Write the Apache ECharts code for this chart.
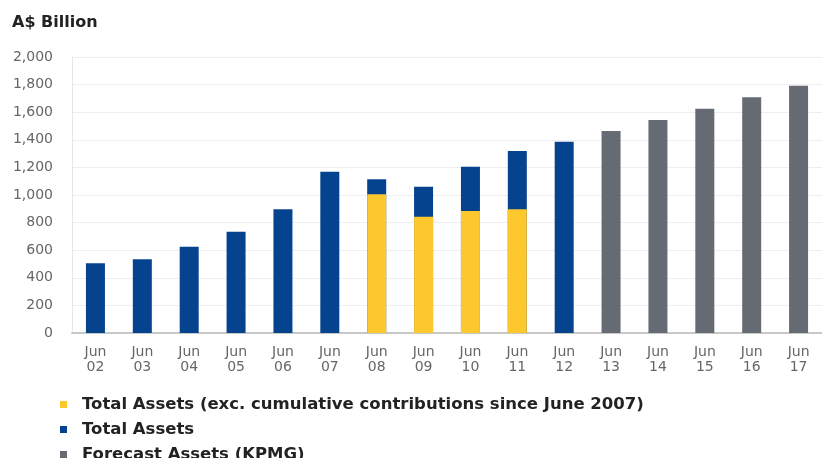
<!DOCTYPE html>
<html>
<head>
<meta charset="utf-8">
<script src="https://cdn.jsdelivr.net/npm/echarts@6/dist/echarts.min.js"></script>
<style>html,body{margin:0;padding:0;background:#fff;}#c{width:822px;height:458px;}</style>
</head>
<body>
<div id="c"></div>
<script>
const categories = ['Jun\n02','Jun\n03','Jun\n04','Jun\n05','Jun\n06','Jun\n07','Jun\n08','Jun\n09','Jun\n10','Jun\n11','Jun\n12','Jun\n13','Jun\n14','Jun\n15','Jun\n16','Jun\n17'];
const totalAssets = [505, 534, 625, 734, 896, 1169, 1114, 1060, 1205, 1319, 1386, null, null, null, null, null];
const excContributions = [null, null, null, null, null, null, 1005, 843, 884, 896, null, null, null, null, null, null];
const forecastAssets = [null, null, null, null, null, null, null, null, null, null, null, 1464, 1543, 1625, 1708, 1792];
const yTicks = [0, 200, 400, 600, 800, 1000, 1200, 1400, 1600, 1800, 2000];

const names = ['Total Assets (exc. cumulative contributions since June 2007)', 'Total Assets', 'Forecast Assets (KPMG)'];
const FONT = '"DejaVu Sans", "Liberation Sans", Arial, sans-serif';
const legendText = { fontSize: 16.5, fontWeight: 'bold', color: '#222', fontFamily: FONT, padding: [0, 0, 0, 10] };
function legendAt(name, top) {
  return { data: [name], orient: 'vertical', left: 60, top: top, itemWidth: 7, itemHeight: 7,
           icon: 'rect', padding: 0, itemGap: 0, textStyle: legendText, selectedMode: false };
}
const chart = echarts.init(document.getElementById('c'));
chart.setOption({
  animation: false,
  textStyle: { fontFamily: FONT },
  graphic: [{
    type: 'text', left: 12, top: 15,
    style: { text: 'A$ Billion', font: 'bold 16px ' + FONT, fill: '#222' }
  }],
  legend: [legendAt(names[0], 396), legendAt(names[1], 421), legendAt(names[2], 446)],
  grid: { left: 72, right: 0, top: 57, bottom: 125 },
  xAxis: {
    type: 'category', data: categories,
    axisLine: { lineStyle: { color: '#c8c8c8', width: 2 } },
    axisTick: { show: false },
    axisLabel: { color: '#666', fontSize: 14, lineHeight: 15, margin: 12 }
  },
  yAxis: {
    type: 'value', min: 0, max: 2000, interval: 200,
    axisLine: { show: true, lineStyle: { color: '#e6e6e6' } },
    axisTick: { show: false },
    splitLine: { lineStyle: { color: '#eeeeee' } },
    axisLabel: {
      color: '#666', fontSize: 14, margin: 19,
      formatter: v => yTicks.includes(v) ? v.toLocaleString('en-US') : ''
    }
  },
  series: [
    { name: names[1], type: 'bar', data: totalAssets, barWidth: 19, barGap: '-100%', itemStyle: { color: '#05438f' }, z: 2 },
    { name: names[0], type: 'bar', data: excContributions, barWidth: 19, barGap: '-100%', itemStyle: { color: '#fdc72e' }, z: 3 },
    { name: names[2], type: 'bar', data: forecastAssets, barWidth: 19, barGap: '-100%', itemStyle: { color: '#666a72' }, z: 2 }
  ]
});
</script>
</body>
</html>
